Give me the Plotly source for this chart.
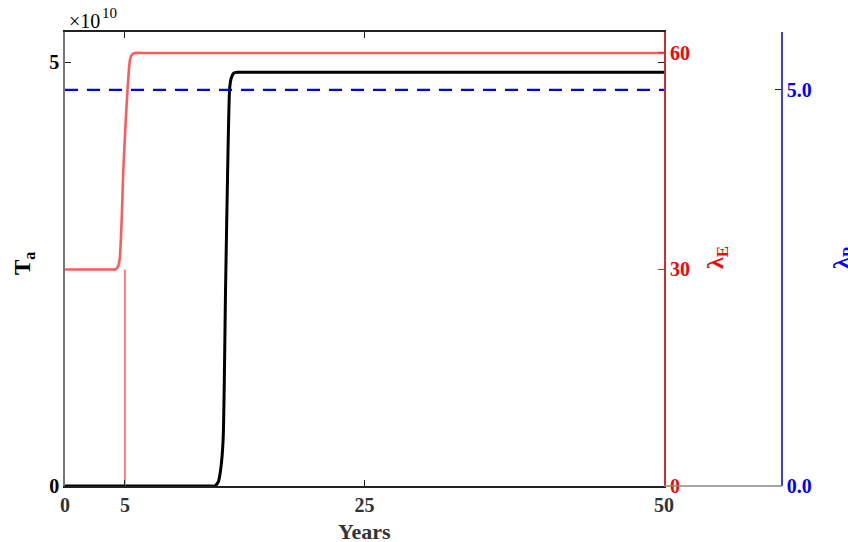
import plotly.graph_objects as go

# ---- data ----
red_x = [0, 3.8, 4.2, 4.45, 4.58, 4.72, 4.86, 5.06, 5.22, 5.42, 5.6, 5.85, 6.4, 50]
red_y = [30, 30, 30, 30.5, 31.7, 36.4, 43.4, 50.3, 54.9, 59.0, 59.8, 60, 60, 60]          # lambda_E

black_x = [0, 12.0, 12.5, 12.8, 13.0, 13.2, 13.4, 13.6, 13.75, 13.9, 14.1, 14.4, 15.0, 50]
black_y = [0, 0, 0, 0.05, 0.2, 0.55, 2.3, 3.9, 4.7, 4.82, 4.87, 4.88, 4.88, 4.88]         # T_a (x1e10)

stem_x = [5, 5]
stem_y = [0, 30]                                                                  # lambda_E marker at year 5

blue_x = [0, 50]
blue_y = [5.0, 5.0]                                                               # lambda_P

x_ticks = [0, 5, 25, 50]
ta_ticks = [0, 5]
le_ticks = [0, 30, 60]
lp_ticks = [0, 5]
lp_ticktext = ["0.0", "5.0"]

W, H = 848, 542
FONT = "Liberation Serif"

def px(x):
    return x / W

def py(y):
    return 1 - y / H

fig = go.Figure()
fig.add_trace(go.Scatter(x=stem_x, y=stem_y, yaxis="y2", mode="lines",
                         line=dict(color="rgba(255,60,60,0.85)", width=1.5), showlegend=False))
fig.add_trace(go.Scatter(x=red_x, y=red_y, yaxis="y2", mode="lines", line_shape="spline",
                         line=dict(color="rgba(255,50,50,0.8)", width=2.6, smoothing=0.6),
                         showlegend=False))
fig.add_trace(go.Scatter(x=black_x, y=black_y, yaxis="y", mode="lines", line_shape="spline",
                         line=dict(color="black", width=3, smoothing=0.6), showlegend=False))
fig.add_trace(go.Scatter(x=blue_x, y=blue_y, yaxis="y3", mode="lines",
                         line=dict(color="#0000ee", width=2.4, dash="13px,9px"), showlegend=False))

tickfont = dict(family=FONT, size=20, weight="bold")

fig.update_layout(
    width=W, height=H, margin=dict(l=0, r=0, t=0, b=0, autoexpand=False),
    paper_bgcolor="white", plot_bgcolor="white",
    xaxis=dict(domain=[px(65), px(664)], range=[0, 50], tickvals=x_ticks,
               ticks="inside", ticklen=6, mirror="ticks", showline=True,
               linecolor="#222222", linewidth=1.5, tickcolor="#222222",
               showgrid=False, zeroline=False, automargin=False,
               tickfont=dict(tickfont, color="#333333")),
    yaxis=dict(domain=[py(486), py(32)], range=[0, 5.354], tickvals=ta_ticks,
               ticks="inside", ticklen=6, mirror="ticks", showline=True,
               linecolor="#777777", linewidth=1.5, tickcolor="#222222",
               showgrid=False, zeroline=False, automargin=False,
               tickfont=dict(tickfont, color="black")),
    yaxis2=dict(overlaying="y", side="right", anchor="x", range=[0, 62.9],
                tickvals=le_ticks, ticks="inside", ticklen=6, showline=True,
                linecolor="#c83030", linewidth=1.8, tickcolor="#c83030",
                showgrid=False, zeroline=False, automargin=False,
                tickfont=dict(tickfont, color="#ff0000")),
    yaxis3=dict(overlaying="y", side="right", anchor="free", position=px(782),
                range=[0, 5.73], tickvals=lp_ticks, ticktext=lp_ticktext,
                ticks="inside", ticklen=6, showline=True,
                linecolor="#3b3bff", linewidth=1.5, tickcolor="#0000ff",
                showgrid=False, zeroline=False, automargin=False,
                tickfont=dict(tickfont, color="#0000ff")),
    shapes=[dict(type="line", xref="paper", yref="paper",
                 x0=px(664), x1=px(782), y0=py(486), y1=py(486),
                 line=dict(color="#888888", width=1.5))],
    annotations=[
        dict(text="Years", x=px(364), y=py(531), xref="paper", yref="paper",
             showarrow=False, xanchor="center", yanchor="middle",
             font=dict(family=FONT, size=22, weight="bold", color="#333333")),
        dict(text="T<sub>a</sub>", x=px(24), y=py(264), xref="paper", yref="paper",
             showarrow=False, xanchor="center", yanchor="middle", textangle=-90,
             font=dict(family=FONT, size=23, weight="bold", color="black")),
        dict(text="λ<sub>E</sub>", x=px(717), y=py(258), xref="paper", yref="paper",
             showarrow=False, xanchor="center", yanchor="middle", textangle=-90,
             font=dict(family=FONT, size=24, weight="bold", color="#ff0000")),
        dict(text="λ<sub>P</sub>", x=px(843), y=py(258), xref="paper", yref="paper",
             showarrow=False, xanchor="center", yanchor="middle", textangle=-90,
             font=dict(family=FONT, size=24, weight="bold", color="#0000ff")),
        dict(text="×10", x=px(67), y=py(21), xref="paper", yref="paper",
             showarrow=False, xanchor="left", yanchor="middle",
             font=dict(family=FONT, size=20, color="black")),
        dict(text="10", x=px(100), y=py(13), xref="paper", yref="paper",
             showarrow=False, xanchor="left", yanchor="middle",
             font=dict(family=FONT, size=15, color="black")),
    ],
)

fig.write_html("out.html")
